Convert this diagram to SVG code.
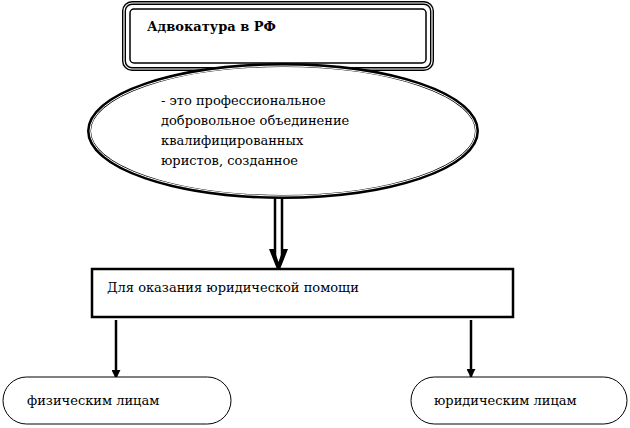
<svg xmlns="http://www.w3.org/2000/svg" width="630" height="428" viewBox="0 0 630 428">
<defs>
<style>
.t{font-family:'DejaVu Serif','Liberation Serif',serif;font-size:13px;fill:#000}
.b{font-weight:bold}
.ln{stroke:#000;fill:none}
</style>
<marker id="ah" viewBox="0 0 10 10" refX="9" refY="5" markerWidth="9" markerHeight="9" markerUnits="userSpaceOnUse" orient="auto"><path d="M0,0 L10,5 L0,10 z" fill="#000"/></marker>
</defs>
<rect width="630" height="428" fill="#fff"/>
<g id="connectors">
<g id="double-arrow">
<line x1="275" y1="197" x2="275" y2="258" class="ln" stroke-width="2.5"/>
<line x1="282" y1="197" x2="282" y2="258" class="ln" stroke-width="2.5"/>
<path d="M269,249 L278.5,273 L288,249 L283,249 L278.5,262 L274,249 Z" fill="#000"/>
</g>
<line x1="116" y1="320" x2="116" y2="378" class="ln" stroke-width="2.5" marker-end="url(#ah)"/>
<line x1="471" y1="320" x2="471" y2="377" class="ln" stroke-width="2.5" marker-end="url(#ah)"/>
</g>
<g id="node-title">
<rect x="124" y="3" width="308" height="66" rx="8" fill="#fff" stroke="#000" stroke-width="4"/>
<rect x="124" y="3" width="308" height="66" rx="8" fill="none" stroke="#fff" stroke-width="1.2"/>
<rect x="130" y="9" width="296" height="54" rx="4" fill="none" stroke="#000" stroke-width="1.5"/>
<text x="147" y="31" class="t b" font-family="DejaVu Serif">Адвокатура в РФ</text>
</g>
<g id="node-definition">
<ellipse cx="283" cy="131" rx="194" ry="66" fill="#fff" stroke="#000" stroke-width="4"/>
<ellipse cx="283" cy="131" rx="193" ry="65" fill="none" stroke="#fff" stroke-width="1"/>
<text class="t" font-family="DejaVu Serif"><tspan x="161" y="105">- это профессиональное</tspan><tspan x="161" y="125">добровольное объединение</tspan><tspan x="161" y="145">квалифицированных</tspan><tspan x="161" y="165">юристов, созданное</tspan></text>
</g>
<g id="node-purpose">
<rect x="92" y="269" width="421" height="48" fill="#fff" stroke="#000" stroke-width="2.5"/>
<text x="107" y="292" class="t" font-family="DejaVu Serif">Для оказания юридической помощи</text>
</g>
<g id="node-individuals">
<rect x="3" y="377" width="228" height="47" rx="23.5" fill="#fff" stroke="#000" stroke-width="1"/>
<text x="27" y="405" class="t" font-family="DejaVu Serif">физическим лицам</text>
</g>
<g id="node-legal">
<rect x="411" y="377" width="216" height="47" rx="23.5" fill="#fff" stroke="#000" stroke-width="1"/>
<text x="434" y="405" class="t" font-family="DejaVu Serif">юридическим лицам</text>
</g>
</svg>
